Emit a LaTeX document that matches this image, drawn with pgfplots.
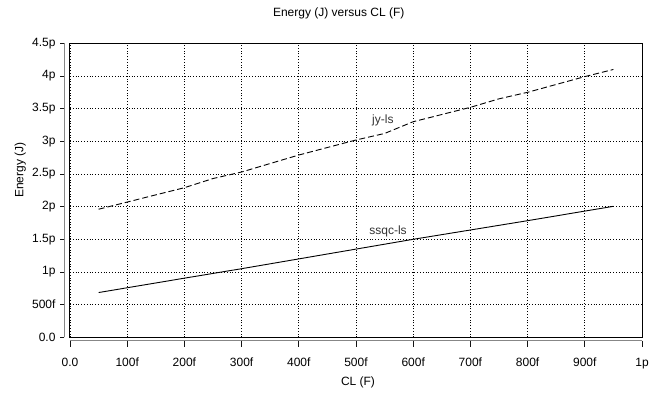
\documentclass[border=0pt]{standalone}
\usepackage{pgfplots}
\pgfplotsset{compat=1.18}
\usepackage{fontspec}
\setmainfont{Liberation Sans}
\definecolor{axgray}{RGB}{135,135,135}
\definecolor{tickblk}{RGB}{20,20,20}
\begin{document}
\begin{tikzpicture}
\begin{axis}[name=ax,
  scale only axis, width=572bp, height=294bp,
  xmin=0, xmax=1, ymin=0, ymax=4.5,
  font=\fontsize{12bp}{14bp}\selectfont,
  axis line style={black, line width=1bp},
  xtick={0,0.1,0.2,0.3,0.4,0.5,0.6,0.7,0.8,0.9,1},
  xticklabels={0.0,100f,200f,300f,400f,500f,600f,700f,800f,900f,1p},
  ytick={0,0.5,1,1.5,2,2.5,3,3.5,4,4.5},
  yticklabels={0.0,500f,1p,1.5p,2p,2.5p,3p,3.5p,4p,4.5p},
  major tick length=0pt,
  xticklabel style={yshift=-17bp},
  yticklabel style={xshift=-11bp},
  grid=major,
  major grid style={black, line width=0.8bp, dash pattern=on 1bp off 1.8bp},
  clip=false,
  unbounded coords=jump,
]
\addplot[black, line width=0.9bp, dash pattern=on 6bp off 3bp] coordinates {
  (0.05,1.96) (0.10,2.07) (0.20,2.29) (0.25,2.43) (0.30,2.53) (0.40,2.79)
  (0.50,3.02) (0.55,3.12) (0.60,3.30) (0.70,3.52) (0.75,3.65) (0.80,3.75)
  (0.90,3.99) (0.95,4.10)
};
\addplot[black, line width=0.9bp] coordinates {
  (0.05,0.685) (0.20,0.905) (0.30,1.05) (0.50,1.35) (0.60,1.50) (0.80,1.785) (0.95,2.005)
};
% outer gray axis lines (3.4bp below, 5.7bp left of the box)
\addplot[axgray, line width=1.4bp, forget plot] coordinates {(0,-0.052) (1,-0.052)};
\addplot[axgray, line width=1.4bp, forget plot] coordinates {(-0.00997,0) (-0.00997,4.5)};
% x tick marks (6.5bp long, downward)
\addplot[tickblk, line width=0.8bp, forget plot] coordinates {
  (0,-0.052) (0,-0.152) (nan,nan) (0.1,-0.052) (0.1,-0.152) (nan,nan)
  (0.2,-0.052) (0.2,-0.152) (nan,nan) (0.3,-0.052) (0.3,-0.152) (nan,nan)
  (0.4,-0.052) (0.4,-0.152) (nan,nan) (0.5,-0.052) (0.5,-0.152) (nan,nan)
  (0.6,-0.052) (0.6,-0.152) (nan,nan) (0.7,-0.052) (0.7,-0.152) (nan,nan)
  (0.8,-0.052) (0.8,-0.152) (nan,nan) (0.9,-0.052) (0.9,-0.152) (nan,nan)
  (1,-0.052) (1,-0.152)
};
% y tick marks (4bp long, leftward)
\addplot[tickblk, line width=0.8bp, forget plot] coordinates {
  (-0.00997,0) (-0.017,0) (nan,nan) (-0.00997,0.5) (-0.017,0.5) (nan,nan)
  (-0.00997,1) (-0.017,1) (nan,nan) (-0.00997,1.5) (-0.017,1.5) (nan,nan)
  (-0.00997,2) (-0.017,2) (nan,nan) (-0.00997,2.5) (-0.017,2.5) (nan,nan)
  (-0.00997,3) (-0.017,3) (nan,nan) (-0.00997,3.5) (-0.017,3.5) (nan,nan)
  (-0.00997,4) (-0.017,4) (nan,nan) (-0.00997,4.5) (-0.017,4.5)
};
\node[anchor=base, text=black!80] at (axis cs:0.547,3.265) {jy-ls};
\node[anchor=base, text=black!80] at (axis cs:0.556,1.581) {ssqc-ls};
\node[anchor=base] at ([yshift=27.3bp]rel axis cs:0.4698,1) {Energy (J) versus CL (F)};
\node[anchor=base] at ([yshift=-47.7bp]rel axis cs:0.5035,0) {CL (F)};
\node[anchor=base, rotate=90] at ([xshift=-46.7bp]rel axis cs:0,0.569) {Energy (J)};
\end{axis}
\path ([xshift=-70bp,yshift=-56.7bp]ax.south west) rectangle ([xshift=20bp,yshift=43.3bp]ax.north east);
\end{tikzpicture}
\end{document}
